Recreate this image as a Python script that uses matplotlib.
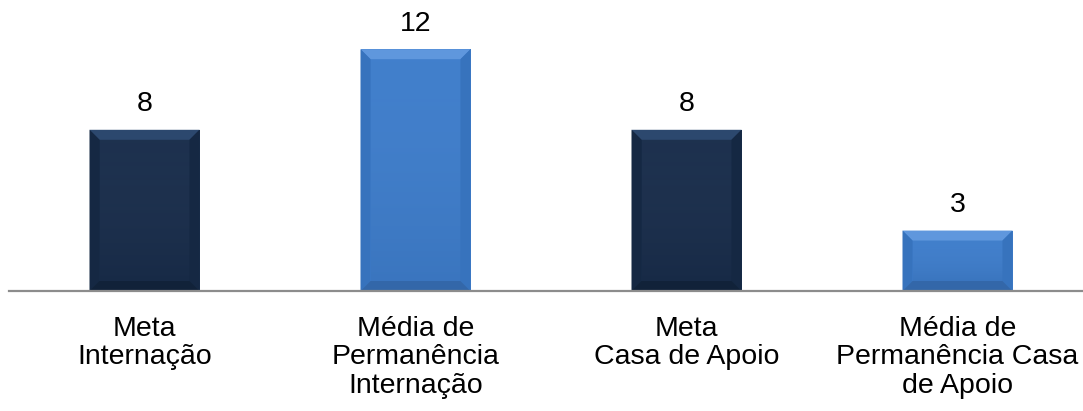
import numpy as np
import matplotlib
matplotlib.use("Agg")
import matplotlib.pyplot as plt
from matplotlib.patches import Polygon

categories = ["Meta\nInternação",
              "Média de\nPermanência\nInternação",
              "Meta\nCasa de Apoio",
              "Média de\nPermanência Casa\nde Apoio"]
values = [8, 12, 8, 3]

# face, top bevel, side bevel, bottom bevel
palette = {
    "dark": ("#192d4b", "#2c486e", "#152843", "#112239"),
    "blue": ("#3e7dcb", "#5f97dd", "#3773bd", "#3367a9"),
}
styles = ["dark", "blue", "dark", "blue"]

plt.rcParams["font.family"] = ["Liberation Sans", "DejaVu Sans"]

W, H = 1083, 411
fig = plt.figure(figsize=(W / 100, H / 100), dpi=100)
ax = fig.add_axes([9 / W, 120 / H, 1074 / W, 291 / H])

step = 271.0      # px per category
unit = 20.15      # px per value unit
ax.set_xlim(-0.5, -0.5 + 1074 / step)
ax.set_ylim(0, 291 / unit)

x = np.arange(len(categories))
bars = ax.bar(x, values, width=110 / step,
              color=[palette[s][0] for s in styles], zorder=2)

# bevelled edges on each bar
bx = 10 / step
by = 10 / unit
shade = matplotlib.colors.LinearSegmentedColormap.from_list(
    "shade", [(0, 0, 0, 0.06), (1, 1, 1, 0.02)])
for b, s in zip(bars, styles):
    face, top, side, bottom = palette[s]
    x0, w, h = b.get_x(), b.get_width(), b.get_height()
    x1 = x0 + w
    ax.add_patch(Polygon([(x0, h), (x1, h), (x1 - bx, h - by), (x0 + bx, h - by)],
                         color=top, lw=0, zorder=3))
    ax.add_patch(Polygon([(x0, h), (x0 + bx, h - by), (x0 + bx, by), (x0, 0)],
                         color=side, lw=0, zorder=3))
    ax.add_patch(Polygon([(x1, h), (x1 - bx, h - by), (x1 - bx, by), (x1, 0)],
                         color=side, lw=0, zorder=3))
    ax.add_patch(Polygon([(x0, 0), (x0 + bx, by), (x1 - bx, by), (x1, 0)],
                         color=bottom, lw=0, zorder=3))
    # light vertical shading on the face
    grad = np.linspace(1, 0, 64).reshape(-1, 1)
    ax.imshow(grad, extent=(x0 + bx, x1 - bx, by, h - by), aspect="auto",
              cmap=shade, zorder=2.5, interpolation="bilinear")
    ax.annotate(f"{b.get_height():g}", (b.get_x() + w / 2, h),
                xytext=(0, 9), textcoords="offset points",
                ha="center", va="bottom", fontsize=20.5, color="black")

for xi, lab in zip(x, categories):
    ax.annotate(lab, (xi, 0), xytext=(0, -18), textcoords="offset points",
                ha="center", va="top", fontsize=20.5, color="black",
                linespacing=1.12, annotation_clip=False)

for sp in ["top", "left", "right"]:
    ax.spines[sp].set_visible(False)
ax.spines["bottom"].set_color("#8c8c8c")
ax.spines["bottom"].set_linewidth(1.6)
ax.spines["bottom"].set_zorder(4)
ax.set_xticks([])
ax.set_yticks([])

fig.savefig("out.png", dpi=100)
